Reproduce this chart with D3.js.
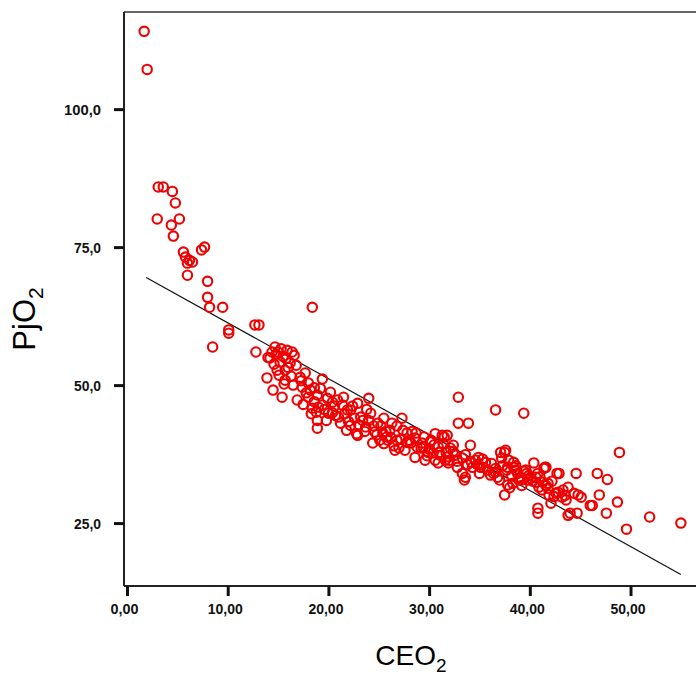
<!DOCTYPE html>
<html>
<head>
<meta charset="utf-8">
<script src="https://cdn.jsdelivr.net/npm/d3@7"></script>
<style>
  html, body { margin: 0; padding: 0; background: #ffffff; }
  svg { display: block; }
</style>
</head>
<body>
<svg id="chart" width="696" height="675"></svg>
<script>
// CEO2 values (x) and PjO2 values (y)
const ceo2 = [
  1.7, 2.0, 3.1, 3.6, 4.5, 4.8, 3.0, 5.2, 4.4, 4.6, 5.6, 5.8, 6.2, 6.5, 6.0, 7.4, 7.7, 6.0, 8.0, 8.0,
  8.2, 9.5, 18.4, 12.7, 13.1, 10.1, 10.1, 8.5, 12.8,
  14.7, 15.9, 14.2, 15.2, 16.2, 14.9, 15.7, 13.9, 17.7, 14.5, 15.4, 16.5, 17.4, 18.0, 19.4, 16.9, 18.0, 18.9, 20.2,
  18.4, 19.4, 20.4, 21.5, 21.4, 18.9, 18.9, 18.8, 20.0, 21.2, 22.2, 22.9, 24.0, 23.2, 24.2, 22.9, 23.7, 24.9, 24.4,
  25.4, 25.5, 26.1, 26.8, 27.3, 27.4, 27.6, 26.6, 25.8, 26.3, 28.0, 28.6, 28.7, 29.3, 29.9, 30.2, 30.6, 30.9, 31.5,
  31.7, 32.0, 32.4, 32.9, 32.9, 33.9, 32.8, 33.3, 33.5, 34.1, 34.6, 35.1, 36.6, 39.4, 36.4, 37.0, 37.5, 37.9, 37.2,
  38.4, 38.8, 37.5, 38.3, 39.2, 39.7, 40.4, 40.8, 41.5, 40.6, 41.2, 41.9, 42.1, 40.8, 42.9, 44.6, 43.3, 43.8, 44.4,
  43.6, 45.1, 44.0, 44.7, 46.2, 46.9, 46.7, 47.7, 48.9, 48.7, 47.6, 49.6, 51.9, 55.0, 41.6, 41.3, 41.8, 42.6, 43.2,
  44.8, 46.0, 43.8, 38.6, 27.8, 28.6, 29.4, 30.1, 29.6, 30.4, 31.3, 31.8, 30.9, 31.9, 32.1, 33.3, 34.9, 33.6, 34.3,
  35.4, 36.1, 36.8, 37.1, 37.6, 37.8, 38.4, 37.8, 38.9, 39.8, 40.6, 41.4, 40.9, 41.8, 42.7, 40.8,
  15.0, 15.5, 16.4, 14.4, 16.8, 17.2, 18.2, 20.9, 21.9, 19.9, 23.4, 24.6, 25.9, 28.2, 29.2, 31.1, 32.6, 35.6, 36.6,
  39.6, 40.1, 15.7, 19.2, 22.2, 20.7, 25.1,
  14.8, 15.3, 15.8, 16.0, 14.6, 15.1, 16.6, 14.0, 15.6, 16.3,
  17.3, 17.8, 18.6, 19.0, 19.6, 20.4, 17.5, 18.3, 19.8, 20.6, 21.0, 18.6,
  21.6, 22.0, 22.6, 23.0, 23.6, 24.0, 24.5, 21.8, 22.4, 23.8, 24.8, 22.8,
  25.2, 25.7, 26.2, 26.8, 27.2, 27.8, 28.3, 28.8, 25.5, 26.5, 27.0,
  29.5, 30.0, 30.5, 31.0, 31.4, 31.9, 32.4, 32.8, 29.8, 30.6, 31.6,
  33.6, 34.2, 34.8, 35.3, 35.8, 36.2, 36.6, 33.8, 35.0,
  37.3, 37.7, 38.2, 38.6, 39.0, 39.4, 39.9, 40.3, 38.0, 39.2,
  41.0, 41.6, 42.2, 42.8, 43.5, 42.4
];
const pjo2 = [
  114.1, 107.2, 85.9, 85.9, 85.1, 83.0, 80.1, 80.1, 79.0, 77.0, 74.1, 73.2, 72.6, 72.3, 72.1, 74.5, 75.0, 69.9, 68.8, 65.9,
  64.1, 64.1, 64.1, 60.9, 60.9, 60.0, 59.4, 56.9, 56.0,
  56.9, 56.3, 54.9, 54.2, 54.0, 52.7, 52.7, 51.3, 52.2, 49.1, 47.8, 50.0, 49.6, 50.4, 51.1, 47.3, 47.8, 48.2, 48.7,
  45.8, 46.4, 46.9, 47.8, 46.4, 43.6, 42.2, 45.1, 44.9, 43.1, 45.5, 46.7, 47.6, 44.2, 44.9, 40.9, 42.4, 43.1, 39.5,
  41.3, 44.0, 41.8, 40.0, 44.0, 41.8, 38.2, 38.2, 40.6, 43.1, 40.0, 36.9, 41.3, 39.5, 37.8, 40.0, 36.4, 38.8, 40.6,
  37.8, 36.4, 39.1, 47.8, 43.1, 43.1, 35.1, 34.0, 32.8, 39.1, 36.4, 35.1, 45.5, 44.9, 34.0, 32.8, 37.8, 36.4, 36.8,
  35.1, 34.0, 30.1, 32.2, 32.8, 34.0, 35.9, 34.0, 35.1, 32.4, 31.0, 30.1, 28.6, 26.8, 34.0, 34.0, 31.0, 31.5, 30.4,
  29.2, 29.7, 26.8, 26.8, 28.2, 30.1, 34.0, 32.9, 37.8, 28.8, 26.8, 23.9, 26.1, 25.0, 35.1, 32.4, 31.3, 30.4, 29.7,
  30.1, 28.2, 26.4, 34.6, 41.3, 40.4, 38.8, 39.7, 36.4, 37.7, 40.9, 40.9, 35.9, 35.9, 38.6, 36.8, 36.9, 33.3, 35.1,
  35.1, 33.7, 33.3, 37.8, 38.2, 35.1, 36.0, 31.9, 32.8, 32.8, 33.3, 34.9, 31.5, 32.2, 34.0, 27.7,
  56.0, 55.2, 56.0, 56.0, 53.6, 51.4, 49.1, 47.3, 45.5, 47.6, 43.6, 41.5, 40.0, 39.5, 38.6, 37.3, 37.3, 36.0, 34.9,
  34.6, 33.1, 50.9, 49.4, 42.7, 44.5, 40.0,
  55.6, 56.6, 54.8, 53.2, 53.8, 51.8, 55.4, 55.0, 50.2, 51.6,
  50.8, 48.6, 47.0, 46.0, 45.6, 45.0, 46.5, 44.8, 43.6, 46.2, 44.2, 49.5,
  44.8, 43.4, 44.0, 42.8, 41.6, 43.6, 42.6, 41.8, 46.2, 45.6, 41.0, 41.2,
  42.6, 41.6, 40.5, 42.6, 40.2, 39.6, 41.6, 38.8, 39.4, 39.0, 38.6,
  40.6, 38.4, 39.2, 37.8, 39.4, 37.0, 38.0, 36.2, 37.2, 41.2, 36.4,
  37.4, 36.0, 35.6, 36.6, 34.6, 35.8, 34.2, 35.6, 34.0,
  35.4, 34.6, 33.6, 35.4, 33.2, 34.4, 33.6, 32.6, 31.4, 31.8,
  33.4, 31.8, 32.6, 30.6, 30.0, 29.8
];
// Fitted line endpoints
const fitX = [1.9, 55.0];
const fitY = [69.5, 15.7];
// Tick values and labels
const xTicks = [0, 10, 20, 30, 40, 50];
const xTickLabels = ["0,00", "10,00", "20,00", "30,00", "40,00", "50,00"];
const yTicks = [25, 50, 75, 100];
const yTickLabels = ["25,0", "50,0", "75,0", "100,0"];

(function () {
const svg = d3.select("#chart");
const mLeft = 124, mRight = 700, mTop = 12, mBottom = 586;

const x = d3.scaleLinear().domain([-0.3, 56.9]).range([mLeft, mRight]);
const y = d3.scaleLinear().domain([13.6, 117.6]).range([mBottom, mTop]);

const n = Math.min(ceo2.length, pjo2.length);
const points = ceo2.slice(0, n).map((v, i) => ({x: v, y: pjo2[i]}));

// frame: top border
svg.append("line")
  .attr("x1", mLeft).attr("x2", mRight).attr("y1", mTop).attr("y2", mTop)
  .attr("stroke", "#333").attr("stroke-width", 1.6);

// regression line
const line = d3.line().x(d => x(d[0])).y(d => y(d[1]));
svg.append("path")
  .datum(fitX.map((v, i) => [v, fitY[i]]))
  .attr("d", line)
  .attr("fill", "none")
  .attr("stroke", "#111")
  .attr("stroke-width", 1.2);

// points
svg.append("g").selectAll("circle")
  .data(points)
  .join("circle")
  .attr("cx", d => x(d.x))
  .attr("cy", d => y(d.y))
  .attr("r", 4.7)
  .attr("fill", "none")
  .attr("stroke", "#ee0000")
  .attr("stroke-width", 2.1);

// x axis
const xAxis = d3.axisBottom(x)
  .tickValues(xTicks)
  .tickSize(10)
  .tickFormat((d, i) => xTickLabels[i]);
const gx = svg.append("g").attr("transform", `translate(0,${mBottom})`).call(xAxis);
gx.select(".domain").attr("stroke", "#222").attr("stroke-width", 2)
  .attr("d", `M${mLeft},0H${mRight}`);
gx.selectAll(".tick line").attr("stroke", "#111").attr("stroke-width", 3);
gx.selectAll(".tick text")
  .attr("y", 28)
  .attr("dy", 0)
  .attr("x", -3)
  .attr("fill", "#111")
  .attr("font-family", "Liberation Sans, Arial, sans-serif")
  .attr("font-weight", "bold")
  .attr("font-size", 14)
  .attr("textLength", (d, i) => xTickLabels[i].length === 4 ? 28 : 35)
  .attr("lengthAdjust", "spacingAndGlyphs");

// y axis
const yAxis = d3.axisLeft(y)
  .tickValues(yTicks)
  .tickSize(10)
  .tickFormat((d, i) => yTickLabels[i]);
const gy = svg.append("g").attr("transform", `translate(${mLeft},0)`).call(yAxis);
gy.select(".domain").attr("stroke", "#222").attr("stroke-width", 2)
  .attr("d", `M0,${mBottom}V${mTop}`);
gy.selectAll(".tick line").attr("stroke", "#111").attr("stroke-width", 3);
gy.selectAll(".tick text")
  .attr("x", -23)
  .attr("dy", "0.4em")
  .attr("fill", "#111")
  .attr("font-family", "Liberation Sans, Arial, sans-serif")
  .attr("font-weight", "bold")
  .attr("font-size", 14)
  .attr("textLength", (d, i) => yTickLabels[i].length === 4 ? 27 : 37)
  .attr("lengthAdjust", "spacingAndGlyphs");

// axis titles
const xt = svg.append("text")
  .attr("x", 411).attr("y", 665)
  .attr("text-anchor", "middle")
  .attr("font-family", "Liberation Sans, Arial, sans-serif")
  .attr("font-size", 28)
  .attr("fill", "#000");
xt.append("tspan").text("CEO");
xt.append("tspan").attr("font-size", 19).attr("dy", 7).text("2");

const yt = svg.append("text")
  .attr("transform", "translate(35,319) rotate(-90)")
  .attr("text-anchor", "middle")
  .attr("font-family", "Liberation Sans, Arial, sans-serif")
  .attr("font-size", 31)
  .attr("fill", "#000");
yt.append("tspan").text("PjO");
yt.append("tspan").attr("font-size", 21).attr("dy", 8).text("2");
})();
</script>
</body>
</html>
